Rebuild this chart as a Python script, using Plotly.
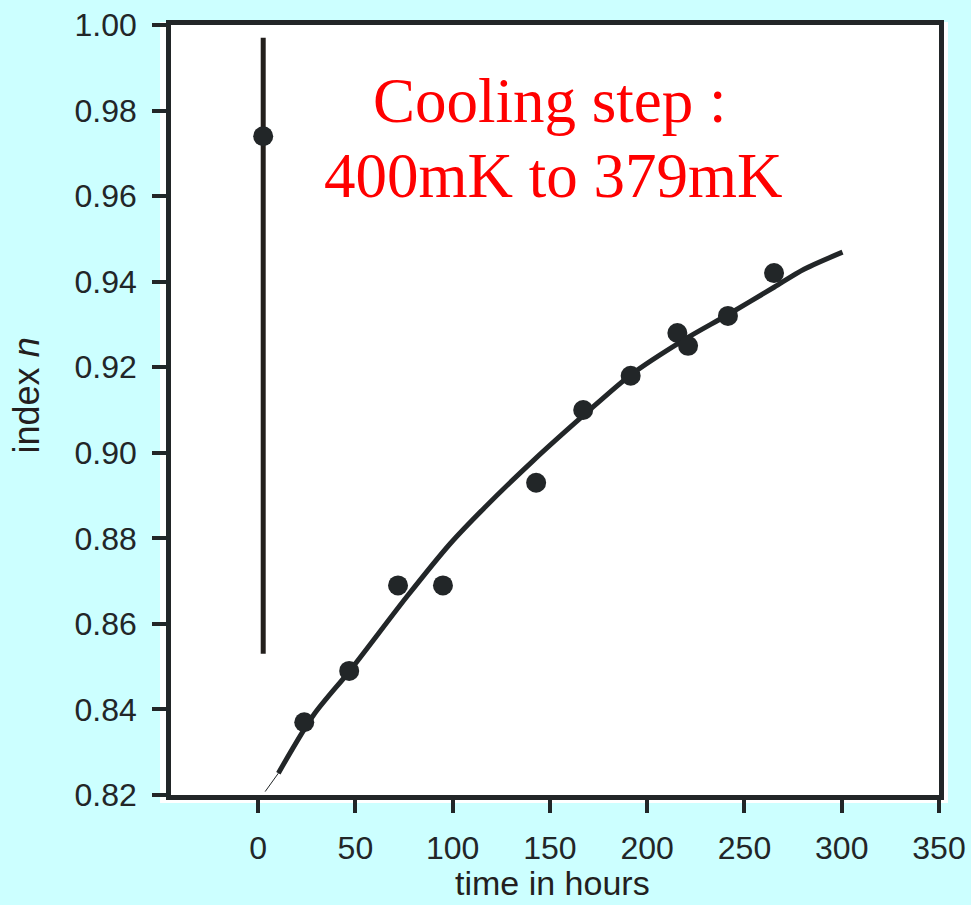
import plotly.graph_objects as go

# Measured data points (time in hours, index n)
time_h = [2.6, 23.7, 46.8, 71.9, 95.0, 142.9, 167.1, 191.5, 215.5, 221.0, 241.5, 265.2]
index_n = [0.974, 0.837, 0.849, 0.869, 0.869, 0.893, 0.910, 0.918, 0.928, 0.925, 0.932, 0.942]

# Error bar on the first point (upper / lower extent)
err_plus = [0.023]
err_minus = [0.121]

# Fitted curve
fit_t = [3.6, 10.4, 28.5, 47.4, 76.5, 98.8, 116.0, 141.7, 167.4, 191.5, 218.9, 241.2, 265.2, 280.6, 300.4]
fit_n = [0.8208, 0.8251, 0.8387, 0.8492, 0.8664, 0.8788, 0.8870, 0.8983, 0.9088, 0.9182, 0.9264, 0.9322, 0.9387, 0.9429, 0.9469]

x_ticks = [0, 50, 100, 150, 200, 250, 300, 350]
y_ticks = [0.82, 0.84, 0.86, 0.88, 0.90, 0.92, 0.94, 0.96, 0.98, 1.00]
y_ticklabels = ["0.82", "0.84", "0.86", "0.88", "0.90", "0.92", "0.94", "0.96", "0.98", "1.00"]

INK = "#222628"
BG = "#CCFFFF"
SANS = "Liberation Sans, Arial, sans-serif"

fig = go.Figure()

# thin starting piece of the fit
fig.add_trace(go.Scatter(x=fit_t[:2], y=fit_n[:2], mode="lines",
                         line=dict(color=INK, width=1), hoverinfo="skip", showlegend=False))
# main fit
fig.add_trace(go.Scatter(x=fit_t[1:], y=fit_n[1:], mode="lines",
                         line=dict(color=INK, width=5, shape="spline", smoothing=0.8),
                         hoverinfo="skip", showlegend=False))

# error bar for the first point
fig.add_trace(go.Scatter(x=time_h[:1], y=index_n[:1], mode="markers",
                         marker=dict(size=1, color="rgba(0,0,0,0)"),
                         error_y=dict(type="data", symmetric=False, array=err_plus,
                                      arrayminus=err_minus, color="#231f1c",
                                      thickness=5, width=0),
                         hoverinfo="skip", showlegend=False))

# data points
fig.add_trace(go.Scatter(x=time_h, y=index_n, mode="markers",
                         marker=dict(size=20, color=INK, line=dict(width=0)),
                         showlegend=False))

axis_font = dict(family=SANS, size=32, color=INK)

fig.update_xaxes(range=[-44.8, 350], tickmode="array", tickvals=x_ticks,
                 ticktext=[str(v) for v in x_ticks],
                 showline=True, linewidth=4.5, linecolor=INK, mirror=True,
                 ticks="outside", ticklen=13, tickwidth=4, tickcolor=INK,
                 showgrid=False, zeroline=False, tickfont=axis_font,
                 ticklabelstandoff=8)
fig.update_yaxes(range=[0.82, 1.00], tickmode="array", tickvals=y_ticks, ticktext=y_ticklabels,
                 showline=True, linewidth=4.5, linecolor=INK, mirror=True,
                 ticks="outside", ticklen=14, tickwidth=4, tickcolor=INK,
                 showgrid=False, zeroline=False, tickfont=axis_font,
                 ticklabelstandoff=9)

# axis titles as annotations for exact placement
fig.add_annotation(text="index <i>n</i>", xref="paper", yref="paper", x=-0.1869, y=0.5195,
                   xanchor="center", yanchor="middle", textangle=-90, showarrow=False,
                   font=dict(family=SANS, size=36, color="#231f20"))
fig.add_annotation(text="time in hours", xref="paper", yref="paper", x=0.497, y=-0.1149,
                   xanchor="center", yanchor="middle", showarrow=False,
                   font=dict(family=SANS, size=34, color="#231f20"))

# white panel slightly larger than the framed plot area
fig.add_shape(type="rect", xref="paper", yref="paper", x0=-0.0143, x1=1.0117, y0=-0.0104, y1=1.0039,
              fillcolor="white", line=dict(width=0), layer="below")

serif = dict(family="Liberation Serif, Times New Roman, serif", size=63, color="#FF0000")
fig.add_annotation(text="Cooling step :", xref="paper", yref="paper", x=0.494, y=0.9013,
                   xanchor="center", yanchor="middle", showarrow=False, font=serif)
fig.add_annotation(text="400mK to 379mK", xref="paper", yref="paper", x=0.498, y=0.8039,
                   xanchor="center", yanchor="middle", showarrow=False, font=serif)

fig.update_layout(width=971, height=905, paper_bgcolor=BG, plot_bgcolor="white",
                  margin=dict(l=171, r=32, t=25, b=110, autoexpand=False),
                  showlegend=False)

fig.write_html("out.html")
